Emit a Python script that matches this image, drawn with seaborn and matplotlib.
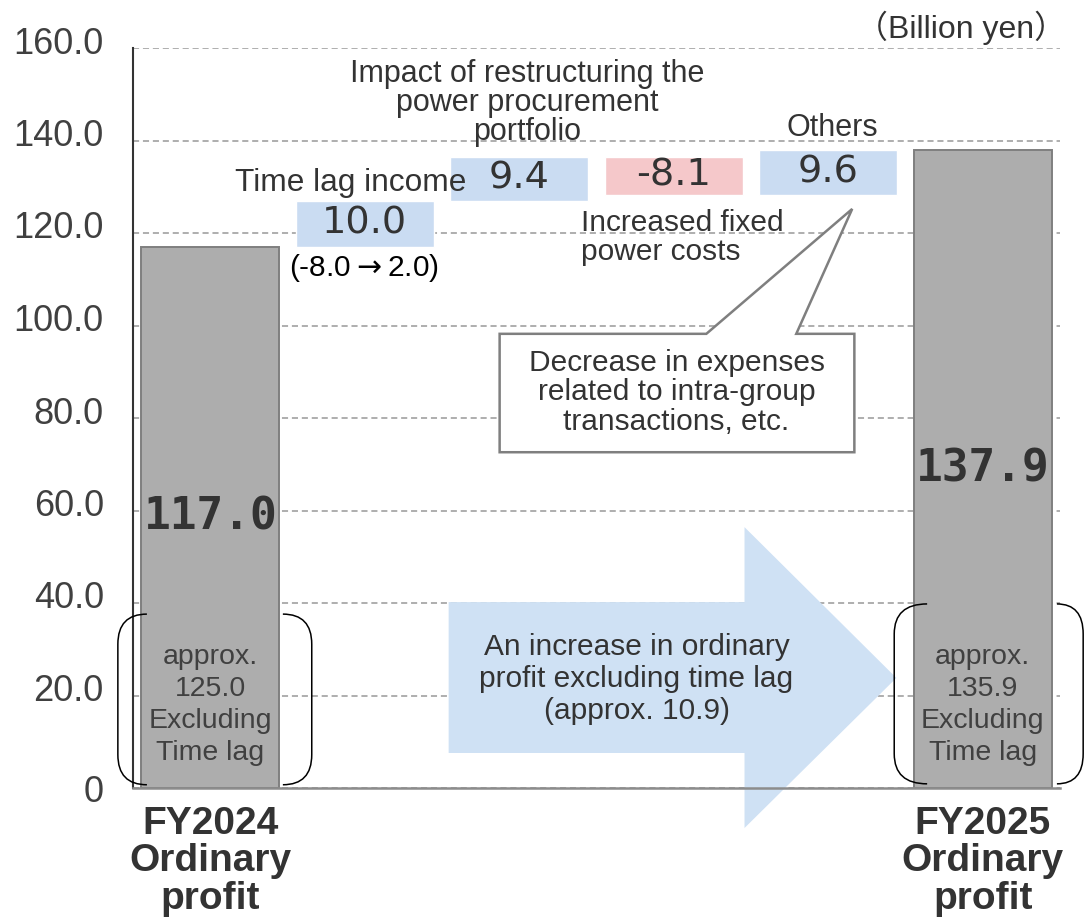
import numpy as np
import pandas as pd
import matplotlib.pyplot as plt
import matplotlib.transforms as mtransforms
from matplotlib.patches import Polygon, PathPatch
from matplotlib.path import Path
import seaborn as sns

# data (billion yen)
categories = ["FY2024", "Time lag income", "Power procurement", "Fixed power costs", "Others", "FY2025"]
tick_names = ["FY2024\nOrdinary\nprofit", "", "", "", "", "FY2025\nOrdinary\nprofit"]
start_value = 117.0
changes = [10.0, 9.4, -8.1, 9.6]
end_value = 137.9
excl_labels = ["approx.\n125.0\nExcluding\nTime lag", "approx.\n135.9\nExcluding\nTime lag"]
y_ticks = [0, 20, 40, 60, 80, 100, 120, 140, 160]
y_tick_labels = ["0", "20.0", "40.0", "60.0", "80.0", "100.0", "120.0", "140.0", "160.0"]

sns.set_style("white")
plt.rcParams["font.family"] = ["Liberation Sans", "DejaVu Sans", "Noto Sans CJK JP"]

TXT = "#333333"
GRAY = "#adadad"
BLUE = "#cadcf2"
PINK = "#f5c8ca"

fig = plt.figure(figsize=(10.84, 9.17), dpi=100)
ax = fig.add_axes([133 / 1084, 129 / 917, 927 / 1084, 740 / 917])

totals = pd.DataFrame({"item": [categories[0], categories[-1]], "value": [start_value, end_value]})
sns.barplot(data=totals, x="item", y="value", order=categories, color=GRAY, saturation=1,
            width=0.89, edgecolor="#7f7f7f", linewidth=1.4, ax=ax, zorder=2)

# floating bars
levels = start_value + np.concatenate([[0], np.cumsum(changes)])
pos = np.arange(1, len(changes) + 1)
colors = [BLUE if c >= 0 else PINK for c in changes]
ax.bar(pos, changes, bottom=levels[:-1], width=0.89, color=colors, zorder=2)
for p, c, b in zip(pos, changes, levels[:-1]):
    ax.text(p, b + c / 2, f"{c:.1f}", ha="center", va="center", fontsize=27.5,
            family="DejaVu Sans", color=TXT, zorder=5)

# totals labels
for p, v, lab in zip([0, len(categories) - 1], [start_value, end_value], excl_labels):
    ax.text(p, v / 2, f"{v:.1f}", ha="center", va="center", fontsize=32, fontweight="bold",
            family="DejaVu Sans Mono", color=TXT, zorder=5)
    ax.text(p, 18, lab, ha="center", va="center", fontsize=20.5, color="#404040",
            linespacing=1.3, zorder=5)

# brackets around the "excluding time lag" labels
def bracket(x_in, x_out, y_top, y_bot, r=6.5):
    verts = [(x_in, y_top), (x_out, y_top), (x_out, y_top - r),
             (x_out, y_bot + r), (x_out, y_bot), (x_in, y_bot)]
    codes = [Path.MOVETO, Path.CURVE3, Path.CURVE3, Path.LINETO, Path.CURVE3, Path.CURVE3]
    ax.add_patch(PathPatch(Path(verts, codes), fill=False, lw=1.1, ec="black",
                           clip_on=False, zorder=6))

bracket(-0.41, -0.598, 37.6, 0.7)
bracket(0.47, 0.657, 37.6, 0.7)
bracket(4.64, 4.427, 39.8, 0.9)
bracket(5.48, 5.65, 39.8, 0.9)

# big arrow
arrow = Polygon([(1.543, 40.2), (3.458, 40.2), (3.458, 56.4), (4.441, 23.8),
                 (3.458, -8.65), (3.458, 7.57), (1.543, 7.57)],
                closed=True, fc="#cfe1f4", ec="none", clip_on=False, zorder=3)
ax.add_patch(arrow)
ax.text(2.759, 23.6, "An increase in ordinary\nprofit excluding time lag\n(approx. 10.9)",
        ha="center", va="center", fontsize=21.5, color=TXT, linespacing=1.18, zorder=5)

# callout for Others
callout = Polygon([(1.873, 98.2), (3.211, 98.2), (4.155, 125.2), (3.793, 98.2),
                   (4.169, 98.2), (4.169, 72.6), (1.873, 72.6)],
                  closed=True, fc="white", ec="#7f7f7f", lw=1.8, zorder=4)
ax.add_patch(callout)
ax.text(3.018, 85.6, "Decrease in expenses\nrelated to intra-group\ntransactions, etc.",
        ha="center", va="center", fontsize=21.5, color=TXT, linespacing=1.07, zorder=5)

# item annotations
ax.text(2.054, 148.1, "Impact of restructuring the\npower procurement\nportfolio",
        ha="center", va="center", fontsize=22, color=TXT, linespacing=0.95, zorder=5)
ax.text(1.659, 130.8, "Time lag income", ha="right", va="center", fontsize=22.8, color=TXT, zorder=5)
ax.text(0.993, 112.4, "(-8.0$\\rightarrow$2.0)", ha="center", va="center", fontsize=21.5,
        color="black", zorder=5)
ax.text(2.397, 119.1, "Increased fixed\npower costs", ha="left", va="center", fontsize=21.5,
        color=TXT, linespacing=1.05, zorder=5)
ax.text(4.027, 142.7, "Others", ha="center", va="center", fontsize=22, color=TXT, zorder=5)

fig.text(1066 / 1084, 1 - 28 / 917, "\uff08Billion yen\uff09", ha="right", va="center",
         fontsize=23, color=TXT, family=["Liberation Sans", "Noto Sans CJK JP"])

# axes styling
ax.set_xlim(-0.5, 5.5)
ax.set_ylim(0, 160)
ax.set_yticks(y_ticks)
ax.set_yticklabels(y_tick_labels, fontsize=26, color="#404040")
ax.set_xticks(range(len(categories)))
ax.set_xticklabels(tick_names, fontsize=28, fontweight="bold", color=TXT, linespacing=1.05)
ax.tick_params(axis="both", length=0)
ax.tick_params(axis="y", pad=21)
ax.tick_params(axis="x", pad=13)
ax.set_xlabel("")
ax.set_ylabel("")
ax.yaxis.grid(True, ls=(0, (4, 2.5)), color="#999999", lw=1.1)
ax.set_axisbelow(True)
for s in ["top", "right"]:
    ax.spines[s].set_visible(False)
ax.spines["left"].set_color("#333333")
ax.spines["left"].set_linewidth(1.5)
ax.spines["bottom"].set_color("#8c8c8c")
ax.spines["bottom"].set_linewidth(1.8)
ax.spines["bottom"].set_zorder(6)

shift = mtransforms.ScaledTranslation(0, 0.08, fig.dpi_scale_trans)
for lab in ax.get_yticklabels()[1:]:
    lab.set_transform(lab.get_transform() + shift)

plt.savefig("out.png", dpi=100)
plt.close()
